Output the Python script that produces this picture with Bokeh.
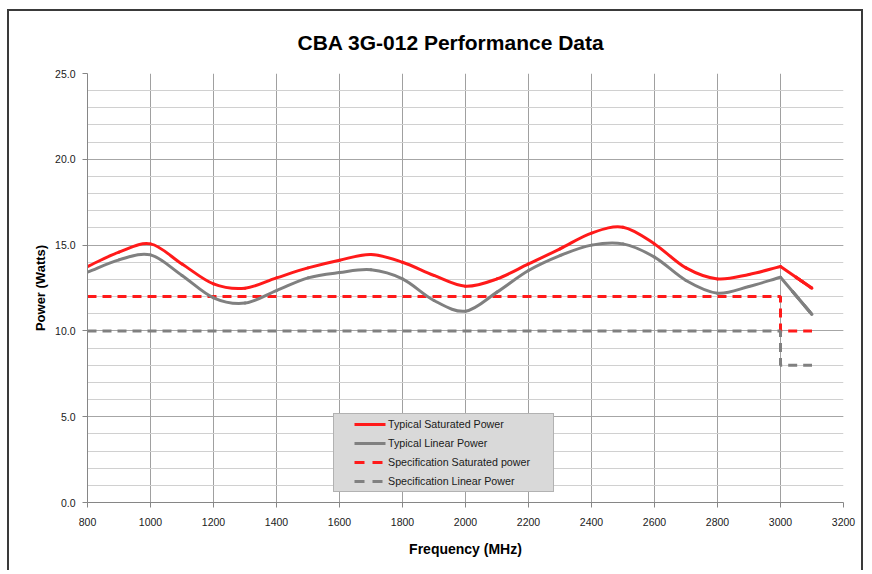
from bokeh.plotting import figure
from bokeh.models import (ColumnDataSource, FixedTicker, PrintfTickFormatter,
                          Legend, LegendItem, Range1d)
from bokeh.embed import file_html
from bokeh.resources import INLINE

# ---------------- data ----------------
freq = [800, 900, 1000, 1100, 1200, 1300, 1400, 1500, 1600, 1700, 1800, 1900,
        2000, 2100, 2200, 2300, 2400, 2500, 2600, 2700, 2800, 2900, 3000, 3100]
typ_sat = [13.75, 14.59, 15.07, 13.90, 12.74, 12.49, 13.09, 13.67, 14.12, 14.45,
           14.00, 13.23, 12.60, 13.03, 13.90, 14.78, 15.70, 16.04, 15.07, 13.67,
           13.03, 13.29, 13.75, 12.49]
typ_lin = [13.42, 14.14, 14.43, 13.23, 11.93, 11.62, 12.35, 13.09, 13.40, 13.56,
           13.03, 11.77, 11.15, 12.26, 13.52, 14.39, 15.00, 15.07, 14.30, 12.94,
           12.20, 12.59, 13.13, 10.96]
spec_freq = [800, 3000, 3000, 3100]
spec_sat = [12.0, 12.0, 10.0, 10.0]
spec_lin = [10.0, 10.0, 8.0, 8.0]

x_ticks = [800, 1000, 1200, 1400, 1600, 1800, 2000, 2200, 2400, 2600, 2800, 3000, 3200]
y_ticks = [0, 5, 10, 15, 20, 25]
y_minor = list(range(0, 26))

labels = ["Typical Saturated Power", "Typical Linear Power",
          "Specification Saturated power", "Specification Linear Power"]

RED = "#ff1a1a"
GRAY = "#808080"


def bezier_source(xs, ys):
    """Catmull-Rom style smoothing (like a spreadsheet 'smoothed line')."""
    n = len(xs)
    m = []
    for i in range(n):
        if i == 0:
            m.append((ys[1] - ys[0]) / (xs[1] - xs[0]))
        elif i == n - 1:
            m.append((ys[-1] - ys[-2]) / (xs[-1] - xs[-2]))
        else:
            m.append((ys[i + 1] - ys[i - 1]) / (xs[i + 1] - xs[i - 1]))
    d = dict(x0=[], y0=[], x1=[], y1=[], cx0=[], cy0=[], cx1=[], cy1=[])
    for i in range(n - 1):
        dx = (xs[i + 1] - xs[i]) / 3.0
        d["x0"].append(xs[i]); d["y0"].append(ys[i])
        d["x1"].append(xs[i + 1]); d["y1"].append(ys[i + 1])
        d["cx0"].append(xs[i] + dx); d["cy0"].append(ys[i] + m[i] * dx)
        d["cx1"].append(xs[i + 1] - dx); d["cy1"].append(ys[i + 1] - m[i + 1] * dx)
    return ColumnDataSource(d)


p = figure(width=856, height=561,
           x_range=Range1d(800, 3200), y_range=Range1d(0, 25),
           output_backend="svg", toolbar_location=None,
           min_border_left=78, min_border_right=22,
           min_border_top=62, min_border_bottom=70)
p.styles = {"margin-left": "7px", "margin-top": "9px",
            "border-top": "2px solid #3a3a3a", "border-left": "2px solid #3a3a3a",
            "border-right": "2px solid #3a3a3a"}
p.outline_line_color = None
p.background_fill_color = "white"
p.border_fill_color = "white"

# title
p.title.text = "CBA 3G-012 Performance Data"
p.title.text_font = "Liberation Sans"
p.title.text_font_size = "21px"
p.title.text_font_style = "bold"
p.title.text_color = "black"
p.title.align = "left"
p.title.vertical_align = "top"
p.title.offset = 210
p.title.standoff = 36

# axes
for ax in (p.xaxis, p.yaxis):
    ax.axis_line_color = "#868686"
    ax.major_tick_line_color = "#868686"
    ax.major_tick_out = 5
    ax.major_tick_in = 0
    ax.minor_tick_out = 0
    ax.minor_tick_in = 0
    ax.major_label_text_font = "Liberation Sans"
    ax.major_label_text_font_size = "10.5px"
    ax.major_label_text_color = "#1a1a1a"
    ax.axis_label_text_font = "Liberation Sans"
    ax.axis_label_text_font_style = "bold"
    ax.axis_label_text_color = "black"

p.xaxis.ticker = FixedTicker(ticks=x_ticks)
p.yaxis.ticker = FixedTicker(ticks=y_ticks, minor_ticks=y_minor)
p.yaxis.formatter = PrintfTickFormatter(format="%.1f")
p.xaxis.axis_label = "Frequency (MHz)"
p.yaxis.axis_label = "Power (Watts)"
p.xaxis.axis_label_text_font_size = "14px"
p.yaxis.axis_label_text_font_size = "13px"
p.xaxis.major_label_standoff = 10
p.yaxis.major_label_standoff = 7
p.xaxis.axis_label_standoff = 12
p.yaxis.axis_label_standoff = 4

# grids
p.xgrid.grid_line_color = "#a0a0a0"
p.ygrid.grid_line_color = "#a6a6a6"
p.ygrid.minor_grid_line_color = "#d0d0d0"

# spec lines
p.line(spec_freq, spec_sat, line_color=RED, line_width=3, line_dash="9 6")
p.line(spec_freq, spec_lin, line_color=GRAY, line_width=3, line_dash="9 6")

# typical lines (smoothed to 3000 MHz, straight to last point)
for ys, col in ((typ_lin, GRAY), (typ_sat, RED)):
    src = bezier_source(freq[:-1], ys[:-1])
    p.bezier(x0="x0", y0="y0", x1="x1", y1="y1", cx0="cx0", cy0="cy0",
             cx1="cx1", cy1="cy1", source=src, line_color=col, line_width=3,
             line_cap="round")
    p.line(freq[-2:], ys[-2:], line_color=col, line_width=3, line_cap="round",
           line_join="round")

# legend proxies: drawn exactly on top of a same-coloured solid segment,
# so they are invisible on the chart but give the legend its samples
r1 = p.line(freq[-2:], typ_sat[-2:], line_color=RED, line_width=3,
            line_dash="0 18 31 100")
r2 = p.line(freq[-2:], typ_lin[-2:], line_color=GRAY, line_width=3,
            line_dash="0 18 31 100")
r3 = p.line(freq[-2:], typ_sat[-2:], line_color=RED, line_width=3,
            line_dash="0 18 10 8 10 100")
r4 = p.line(freq[-2:], typ_lin[-2:], line_color=GRAY, line_width=3,
            line_dash="0 18 10 8 10 100")

legend = Legend(items=[LegendItem(label=labels[0], renderers=[r1]),
                       LegendItem(label=labels[1], renderers=[r2]),
                       LegendItem(label=labels[2], renderers=[r3]),
                       LegendItem(label=labels[3], renderers=[r4])],
                location=(246, 10), padding=2, spacing=3, margin=0,
                glyph_width=50, glyph_height=16, label_height=16,
                label_standoff=2, label_width=163,
                label_text_font="Liberation Sans", label_text_font_size="10.7px",
                label_text_color="#1a1a1a",
                background_fill_color="#d9d9d9", background_fill_alpha=1.0,
                border_line_color="#8c8c8c", border_line_width=1)
p.add_layout(legend)

open("out.html", "w").write(file_html(p, INLINE))
